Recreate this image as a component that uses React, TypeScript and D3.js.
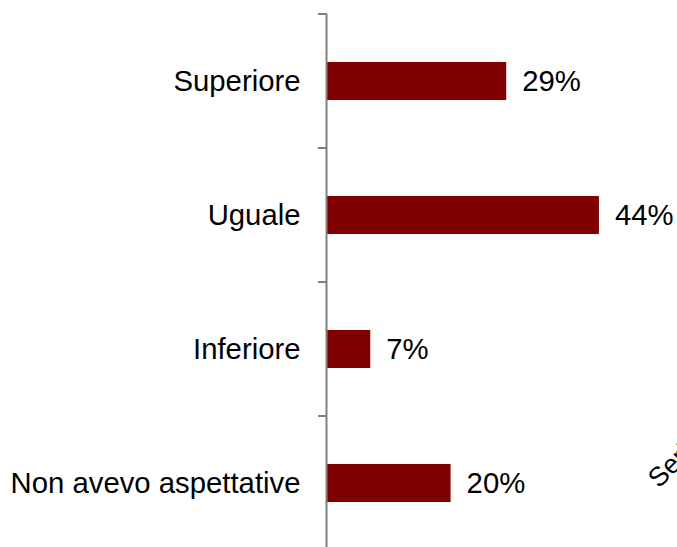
import React from "react";
import * as d3 from "d3";

const categories = ["Superiore", "Uguale", "Inferiore", "Non avevo aspettative"];
const values = [0.29, 0.44, 0.07, 0.2];
const seriesName = "Serie1";

const W = 677;
const H = 547;
const axisX = 327;
const top = 14;
const bandStep = 134;

export default function App() {
  const y = d3
    .scaleBand<string>()
    .domain(categories)
    .range([top, top + bandStep * categories.length])
    .paddingInner(0.716)
    .paddingOuter(0.358);
  const yb = d3
    .scaleBand<string>()
    .domain(categories)
    .range([top, top + bandStep * categories.length]);
  const x = d3.scaleLinear().domain([0, 1]).range([axisX, axisX + 618]);
  const fmt = d3.format(".0%");
  const ticks = d3.range(categories.length + 1).map((i) => top + i * yb.step());

  return (
    <svg
      width={W}
      height={H}
      style={{ position: "absolute", left: 0, top: 0, display: "block" }}
      fontFamily="'Liberation Sans', Arial, sans-serif"
    >
      <rect x={0} y={0} width={W} height={H} fill="#ffffff" />
      {categories.map((c, i) => (
        <g key={c}>
          <rect
            x={x(0)}
            y={y(c)}
            width={x(values[i]) - x(0)}
            height={y.bandwidth()}
            fill="#800000"
          />
          <text
            x={x(values[i]) + 16}
            y={(yb(c) as number) + yb.bandwidth() / 2}
            dy="0.35em"
            fontSize={29.3}
            fill="#000"
          >
            {fmt(values[i])}
          </text>
          <text
            x={axisX - 26.5}
            y={(yb(c) as number) + yb.bandwidth() / 2}
            dy="0.35em"
            fontSize={29.3}
            textAnchor="end"
            fill="#000"
          >
            {c}
          </text>
        </g>
      ))}
      <line x1={axisX - 0.5} x2={axisX - 0.5} y1={top} y2={top + bandStep * categories.length} stroke="#808080" strokeWidth={2} />
      {ticks.map((t) => (
        <line key={t} x1={axisX - 9} x2={axisX} y1={t} y2={t} stroke="#808080" strokeWidth={2} />
      ))}
      <text
        transform={`translate(659,489) rotate(-45)`}
        fontSize={27}
        fill="#000"
      >
        {seriesName}
      </text>
    </svg>
  );
}
